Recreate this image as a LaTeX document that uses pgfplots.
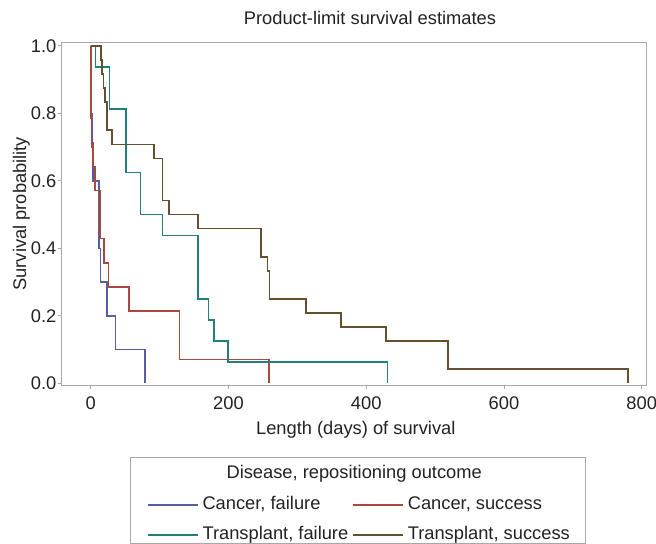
\documentclass[border=0pt]{standalone}
\usepackage{fontspec}
\setmainfont{Liberation Sans}
\usepackage{pgfplots}
\pgfplotsset{compat=1.18}
\definecolor{cfail}{HTML}{565DA2}
\definecolor{csucc}{HTML}{A8483E}
\definecolor{tfail}{HTML}{22807A}
\definecolor{tsucc}{HTML}{64502F}
\definecolor{framegray}{HTML}{A8A8A8}
\definecolor{txt}{HTML}{222222}
\newcommand\cf{\fontsize{18.3bp}{22bp}\selectfont}
\begin{document}
\begin{tikzpicture}[font=\cf, text=txt]
\begin{axis}[
  scale only axis, width=585bp, height=342.5bp,
  xmin=-42.1, xmax=807.3, ymin=-0.005, ymax=1.01,
  xtick={0,200,400,600,800}, ytick={0,0.2,0.4,0.6,0.8,1.0},
  xtick pos=lower, ytick pos=left,
  axis line style={framegray, line width=0.8bp},
  tick align=outside, major tick length=4bp,
  tick style={framegray, line width=0.8bp},
  /pgf/number format/assume math mode=true,
  yticklabel style={/pgf/number format/fixed, /pgf/number format/fixed zerofill, /pgf/number format/precision=1},
  every tick label/.append style={font=\cf, inner sep=0pt},
  xticklabel style={anchor=north, yshift=-7.4bp},
  yticklabel style={anchor=east, xshift=-1.2bp},
  title={Product-limit survival estimates},
  title style={at={(axis description cs:0.527,1.035)}, anchor=base, inner sep=0pt, font=\cf},
  xlabel={Length (days) of survival},
  xlabel style={at={(axis description cs:0.5027,-0.1445)}, anchor=base, inner sep=0pt, font=\cf},
  ylabel={Survival probability},
  ylabel style={at={(axis description cs:-0.0607,0.5)}, anchor=base, inner sep=0pt, font=\cf},
  every axis plot/.append style={line width=1.5bp, const plot},
  legend columns=2, legend cell align=left,
  legend image code/.code={\draw[#1] (0bp,0bp) -- (50bp,0bp);},
  legend style={at={(0,0)}, anchor=north west, xshift=85.3bp, yshift=-111.5bp,
    draw=none, fill=none, inner sep=0pt, outer sep=0pt, font=\cf,
    nodes={inner sep=0pt, text height=13bp, text depth=4bp},
    row sep=13bp,
    /tikz/every odd column/.append style={column sep=4bp},
    /tikz/every even column/.append style={column sep=4bp}},
]
\addplot[cfail] coordinates {(0,1) (0.8,0.8) (1.8,0.7) (3.5,0.6) (12,0.4) (14.5,0.3) (24,0.2) (36,0.1) (79,0)};
\addlegendentry{Cancer, failure}
\addplot[csucc] coordinates {(0,1) (0.5,0.786) (1.5,0.714) (3,0.643) (6.3,0.571) (13.5,0.429) (19,0.357) (25.6,0.286) (55.6,0.214) (128.7,0.071) (259,0)};
\addlegendentry{Cancer, success}
\addplot[tfail] coordinates {(0,1) (7.2,0.9375) (27,0.8125) (51,0.625) (72.3,0.5) (104.5,0.4375) (155.5,0.25) (171,0.1875) (179,0.125) (199,0.0625) (431,0)};
\addlegendentry{Transplant, failure}
\addplot[tsucc] coordinates {(0,1) (14.8,0.9583) (16.5,0.9167) (18.3,0.875) (20.5,0.8333) (23.5,0.75) (31.2,0.7083) (92,0.6667) (104,0.5417) (114,0.5) (155.5,0.4583) (247,0.375) (256.5,0.3333) (259.5,0.25) (312.6,0.2083) (363.4,0.1667) (428.7,0.125) (519,0.0417) (780.5,0)};
\addlegendentry{Transplant, success}
\end{axis}
\draw[framegray, line width=0.8bp] ([shift={(68.3bp,-72bp)}]current axis.south west) rectangle ([shift={(523.3bp,-158.5bp)}]current axis.south west);
\node[anchor=base, inner sep=0pt, font=\cf] at ([shift={(292.5bp,-93.5bp)}]current axis.south west) {Disease, repositioning outcome};
\pgfresetboundingbox
\path ([shift={(-61.7bp,-159bp)}]current axis.south west) rectangle ++(656bp,544bp);
\end{tikzpicture}
\end{document}
